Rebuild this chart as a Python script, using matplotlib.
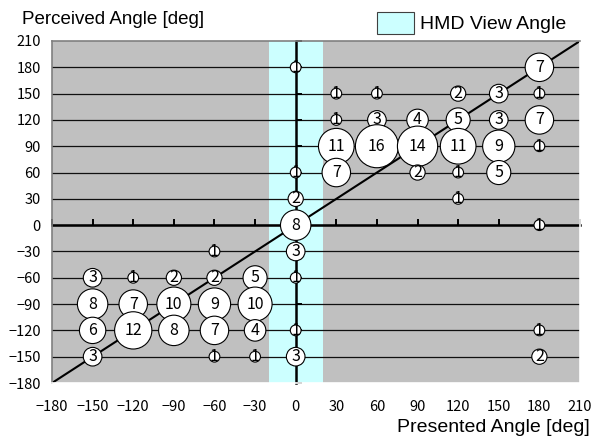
import matplotlib
matplotlib.use("Agg")
import matplotlib.pyplot as plt
from matplotlib.patches import Patch
import numpy as np

# Presented angle, perceived angle and number of responses for each bubble
presented = [0, 180,
             30, 60, 120, 150, 180,
             30, 60, 90, 120, 150, 180,
             30, 60, 90, 120, 150, 180,
             0, 30, 90, 120, 150,
             0, 120,
             0, 180,
             0, -60,
             -150, -120, -90, -60, -30, 0,
             -150, -120, -90, -60, -30,
             -150, -120, -90, -60, -30, 0, 180,
             -150, -60, -30, 0, 180]
perceived = [180, 180,
             150, 150, 150, 150, 150,
             120, 120, 120, 120, 120, 120,
             90, 90, 90, 90, 90, 90,
             60, 60, 60, 60, 60,
             30, 30,
             0, 0,
             -30, -30,
             -60, -60, -60, -60, -60, -60,
             -90, -90, -90, -90, -90,
             -120, -120, -120, -120, -120, -120, -120,
             -150, -150, -150, -150, -150]
counts = [1, 7,
          1, 1, 2, 3, 1,
          1, 3, 4, 5, 3, 7,
          11, 16, 14, 11, 9, 1,
          1, 7, 2, 1, 5,
          2, 1,
          8, 1,
          3, 1,
          3, 1, 2, 2, 5, 1,
          8, 7, 10, 9, 10,
          6, 12, 8, 7, 4, 1, 1,
          3, 1, 1, 3, 2]

ticks = list(range(-180, 211, 30))
grid_levels = list(range(-150, 181, 30))
view_angle = [-20, 20]
identity = [-180, 210]

BG = "#C0C0C0"
CYAN = "#CCFFFF"
CJK = ["Noto Sans CJK JP", "DejaVu Sans"]

fig = plt.figure(figsize=(5.92, 4.36), dpi=100)
rect = [52 / 592, 1 - 383 / 436, (580 - 52) / 592, (383 - 41) / 436]

ax = fig.add_axes(rect)
ax.set_facecolor(BG)
ax.set_xlim(-180, 210)
ax.set_ylim(-180, 210)
ax.set_axisbelow(True)

# HMD field of view band
ax.axvspan(view_angle[0], view_angle[1], color=CYAN, zorder=0.2, lw=0)

# horizontal gridlines
for g in grid_levels:
    ax.axhline(g, color="#101010", lw=0.9, zorder=0.4)

# axes crossing at the origin, with inward tick marks
for side in ("top", "right"):
    ax.spines[side].set_visible(False)
ax.spines["bottom"].set_position("zero")
ax.spines["left"].set_position("zero")
for side in ("bottom", "left"):
    ax.spines[side].set_linewidth(1.8)
    ax.spines[side].set_color("black")
    ax.spines[side].set_zorder(0.6)
ax.set_xticks(ticks)
ax.set_yticks(ticks)
ax.tick_params(direction="in", length=4, width=1.4, color="black",
               labelbottom=False, labelleft=False)

# identity line
ax.plot(identity, identity, color="black", lw=1.5, zorder=1)

# bubbles: area proportional to the number of responses
sizes = [60 * c for c in counts]
ax.scatter(presented, perceived, s=sizes, facecolor="white", edgecolor="black",
           linewidths=0.8, zorder=3)
for x, y, c in zip(presented, perceived, counts):
    ax.text(x, y, str(c), ha="center", va="center", fontsize=11.5,
            family=CJK, zorder=4)

# overlay for tick labels and the plot-area border
axl = fig.add_axes(rect, sharex=ax, sharey=ax)
axl.patch.set_visible(False)
axl.set_xticks(ticks)
axl.set_yticks(ticks)
axl.tick_params(length=0, labelsize=10.5, pad=0)
axl.tick_params(axis="x", pad=12)
axl.tick_params(axis="y", pad=8)
for lab in axl.get_xticklabels() + axl.get_yticklabels():
    lab.set_family(CJK)
axl.spines["top"].set_color("#808080")
axl.spines["left"].set_color("#808080")
axl.spines["bottom"].set_color("white")
axl.spines["right"].set_color("white")
for s in axl.spines.values():
    s.set_linewidth(1.2)

# axis titles
fig.text(22 / 592, 1 - 19 / 436, "Perceived Angle [deg]", ha="left", va="center",
         fontsize=13.5, family="Liberation Sans")
fig.text(590 / 592, 1 - 427 / 436, "Presented Angle [deg]", ha="right", va="center",
         fontsize=14, family="Liberation Sans")

# legend
fig.legend(handles=[Patch(facecolor=CYAN, edgecolor="#404040", lw=0.8,
                          label="HMD View Angle")],
           loc="upper left", bbox_to_anchor=(377 / 592, 1 - 12 / 436),
           frameon=False, borderpad=0, borderaxespad=0,
           handlelength=1.9, handleheight=1.35, handletextpad=0.3,
           prop={"family": "Liberation Sans", "size": 14})

fig.savefig("out.png", dpi=100)
